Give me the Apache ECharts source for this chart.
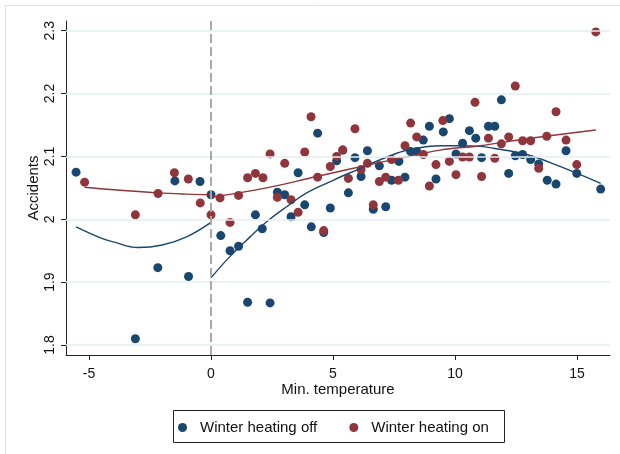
<!DOCTYPE html>
<html>
<head>
<meta charset="utf-8">
<script src="https://cdn.jsdelivr.net/npm/echarts@6/dist/echarts.min.js"></script>
<style>
html,body{margin:0;padding:0;background:#fff;}
#chart{width:620px;height:454px;}
</style>
</head>
<body>
<div id="chart"></div>
<script>
// ---- data ----
var offX = [-5.53,-3.10,-2.18,-1.48,-0.92,-0.45,0.00,0.40,0.78,1.13,1.50,1.82,2.10,2.42,2.72,3.02,3.28,3.57,3.84,4.11,4.37,4.62,4.89,5.15,5.40,5.63,5.90,6.15,6.41,6.65,6.90,7.16,7.40,7.70,7.95,8.18,8.43,8.70,8.95,9.22,9.52,9.77,10.04,10.31,10.59,10.85,11.09,11.37,11.63,11.90,12.20,12.47,12.77,13.10,13.43,13.78,14.14,14.55,14.99,15.97];
var offY = [2.075,1.810,1.923,2.061,1.909,2.060,2.039,1.974,1.950,1.957,1.868,2.007,1.985,1.867,2.043,2.039,2.004,2.074,2.023,1.988,2.137,1.979,2.018,2.093,2.110,2.042,2.098,2.068,2.109,2.016,2.085,2.020,2.062,2.092,2.067,2.108,2.108,2.126,2.148,2.064,2.139,2.160,2.104,2.121,2.141,2.129,2.098,2.148,2.148,2.190,2.073,2.101,2.103,2.095,2.088,2.062,2.056,2.109,2.073,2.048];
var onX = [-5.18,-3.10,-2.17,-1.50,-0.93,-0.44,0.00,0.37,0.78,1.13,1.50,1.82,2.13,2.42,2.72,3.02,3.28,3.57,3.84,4.10,4.37,4.62,4.89,5.15,5.40,5.63,5.90,6.15,6.41,6.65,6.90,7.16,7.40,7.68,7.95,8.18,8.43,8.70,8.95,9.22,9.50,9.77,10.04,10.31,10.59,10.82,11.09,11.37,11.63,11.90,12.20,12.47,12.77,13.10,13.43,13.76,14.14,14.55,14.99,15.77];
var onY = [2.059,2.007,2.041,2.074,2.064,2.026,2.007,2.034,1.995,2.038,2.066,2.073,2.066,2.104,2.035,2.089,2.031,2.011,2.107,2.163,2.067,1.982,2.084,2.100,2.110,2.065,2.144,2.079,2.089,2.023,2.060,2.067,2.095,2.062,2.117,2.153,2.131,2.103,2.053,2.087,2.157,2.092,2.071,2.099,2.099,2.186,2.068,2.129,2.097,2.120,2.131,2.212,2.125,2.125,2.081,2.132,2.171,2.126,2.087,2.298];

// fitted curves
var fitOffLeftX = [-5.53,-4.5,-4.0,-3.0,-2.0,-1.0,0.0];
var fitOffLeftY = [1.988,1.970,1.964,1.955,1.959,1.972,1.995];
var fitOffRightX = [0.0,0.78,1.6,2.28,3.1,3.92,5.01,5.7,7.61,8.43,9.39,10.2,11.02,11.57,12.94,14.3,15.97];
var fitOffRightY = [1.907,1.941,1.972,1.996,2.020,2.042,2.062,2.074,2.105,2.113,2.117,2.117,2.116,2.113,2.103,2.084,2.057];
var fitOnLeftX = [-5.18,-4.0,-2.17,-1.0,0.0];
var fitOnLeftY = [2.051,2.047,2.042,2.040,2.039];
var fitOnRightX = [0.0,2.28,4.33,5.7,7.61,9.39,11.02,12.94,15.77];
var fitOnRightY = [2.035,2.050,2.068,2.080,2.096,2.110,2.117,2.128,2.142];

var xTicks = [-5,0,5,10,15];
var yTicks = [1.8,1.9,2,2.1,2.2,2.3];
var yTickLabels = ['1.8','1.9','2','2.1','2.2','2.3'];
var seriesNames = ['Winter heating off','Winter heating on'];
var xTitle = 'Min. temperature';
var yTitle = 'Accidents';
var cutoff = 0;

var BLUE = '#1a476f', RED = '#90353b';
var FONT = '"Liberation Sans", Arial, sans-serif';

function pairs(xs, ys){ return xs.map(function(x,i){ return [x, ys[i]]; }); }

var chart = echarts.init(document.getElementById('chart'), null, {renderer:'canvas'});
var lineCommon = {type:'line', smooth:0.4, symbol:'none', silent:true, z:4, legendHoverLink:false};
chart.setOption({
  animation:false,
  backgroundColor:'#fff',
  textStyle:{fontFamily:FONT},
  grid:{left:66, top:21, width:544, height:334, containLabel:false},
  xAxis:{
    type:'value', min:-5.943, max:16.352,
    name:xTitle, nameLocation:'middle', nameGap:27, nameMoveOverlap:false,
    nameTextStyle:{fontSize:15, color:'#111', fontFamily:FONT},
    axisLine:{onZero:false, lineStyle:{color:'#222', width:1}},
    axisTick:{show:true, length:5, customValues:xTicks, lineStyle:{color:'#222'}},
    axisLabel:{customValues:xTicks, fontSize:14, color:'#111', margin:12, fontFamily:FONT},
    splitLine:{show:false}
  },
  yAxis:{
    type:'value', min:1.7841, max:2.3154,
    name:yTitle, nameLocation:'middle', nameGap:25, nameMoveOverlap:false,
    nameTextStyle:{fontSize:15, color:'#111', fontFamily:FONT},
    axisLine:{show:true, onZero:false, lineStyle:{color:'#222', width:1}},
    axisTick:{show:true, length:5, customValues:yTicks, lineStyle:{color:'#222'}},
    axisLabel:{customValues:yTicks, rotate:90, fontSize:14, color:'#111', margin:9, fontFamily:FONT,
      formatter:function(v){ var i=yTicks.indexOf(+(+v).toFixed(4)); return i>=0? yTickLabels[i] : ''; }},
    splitLine:{show:false}
  },
  legend:{
    data:[{name:seriesNames[0], icon:'circle'},{name:seriesNames[1], icon:'circle'}],
    left:178, top:420, padding:0, itemWidth:25, itemHeight:9, itemGap:32,
    textStyle:{fontSize:15, color:'#111', fontFamily:FONT}
  },
  graphic:[
    {type:'rect', shape:{x:5.5, y:5.5, width:700, height:700}, style:{fill:'none', stroke:'#dde3e6', lineWidth:1}, silent:true, z:-10},
    {type:'rect', shape:{x:173.5, y:410.5, width:331, height:32}, style:{fill:'none', stroke:'#222', lineWidth:1}, silent:true}
  ],
  series:[
    {type:'scatter', name:'grid', data:[], silent:true, z:1,
     markLine:{silent:true, symbol:'none', label:{show:false}, animation:false,
       lineStyle:{color:'#e5eef0', width:1.5, type:'solid'},
       data:yTicks.map(function(v){ return {yAxis:v}; })}},
    {type:'scatter', name:'cut', data:[], silent:true, z:2,
     markLine:{silent:true, symbol:'none', label:{show:false}, animation:false,
       lineStyle:{color:'#a9a9a9', width:2, type:[9,4]},
       data:[{xAxis:cutoff}]}},
    {type:'scatter', name:seriesNames[0], data:pairs(offX,offY), symbol:'circle', symbolSize:9, itemStyle:{color:BLUE, opacity:1}, z:3},
    {type:'scatter', name:seriesNames[1], data:pairs(onX,onY), symbol:'circle', symbolSize:9, itemStyle:{color:RED, opacity:1}, z:3},
    Object.assign({name:'fitOffL', data:pairs(fitOffLeftX,fitOffLeftY), lineStyle:{color:BLUE, width:1.4}}, lineCommon),
    Object.assign({name:'fitOffR', data:pairs(fitOffRightX,fitOffRightY), lineStyle:{color:BLUE, width:1.4}}, lineCommon),
    Object.assign({name:'fitOnL', data:pairs(fitOnLeftX,fitOnLeftY), lineStyle:{color:RED, width:1.4}}, lineCommon),
    Object.assign({name:'fitOnR', data:pairs(fitOnRightX,fitOnRightY), lineStyle:{color:RED, width:1.4}}, lineCommon)
  ]
});
</script>
</body>
</html>
